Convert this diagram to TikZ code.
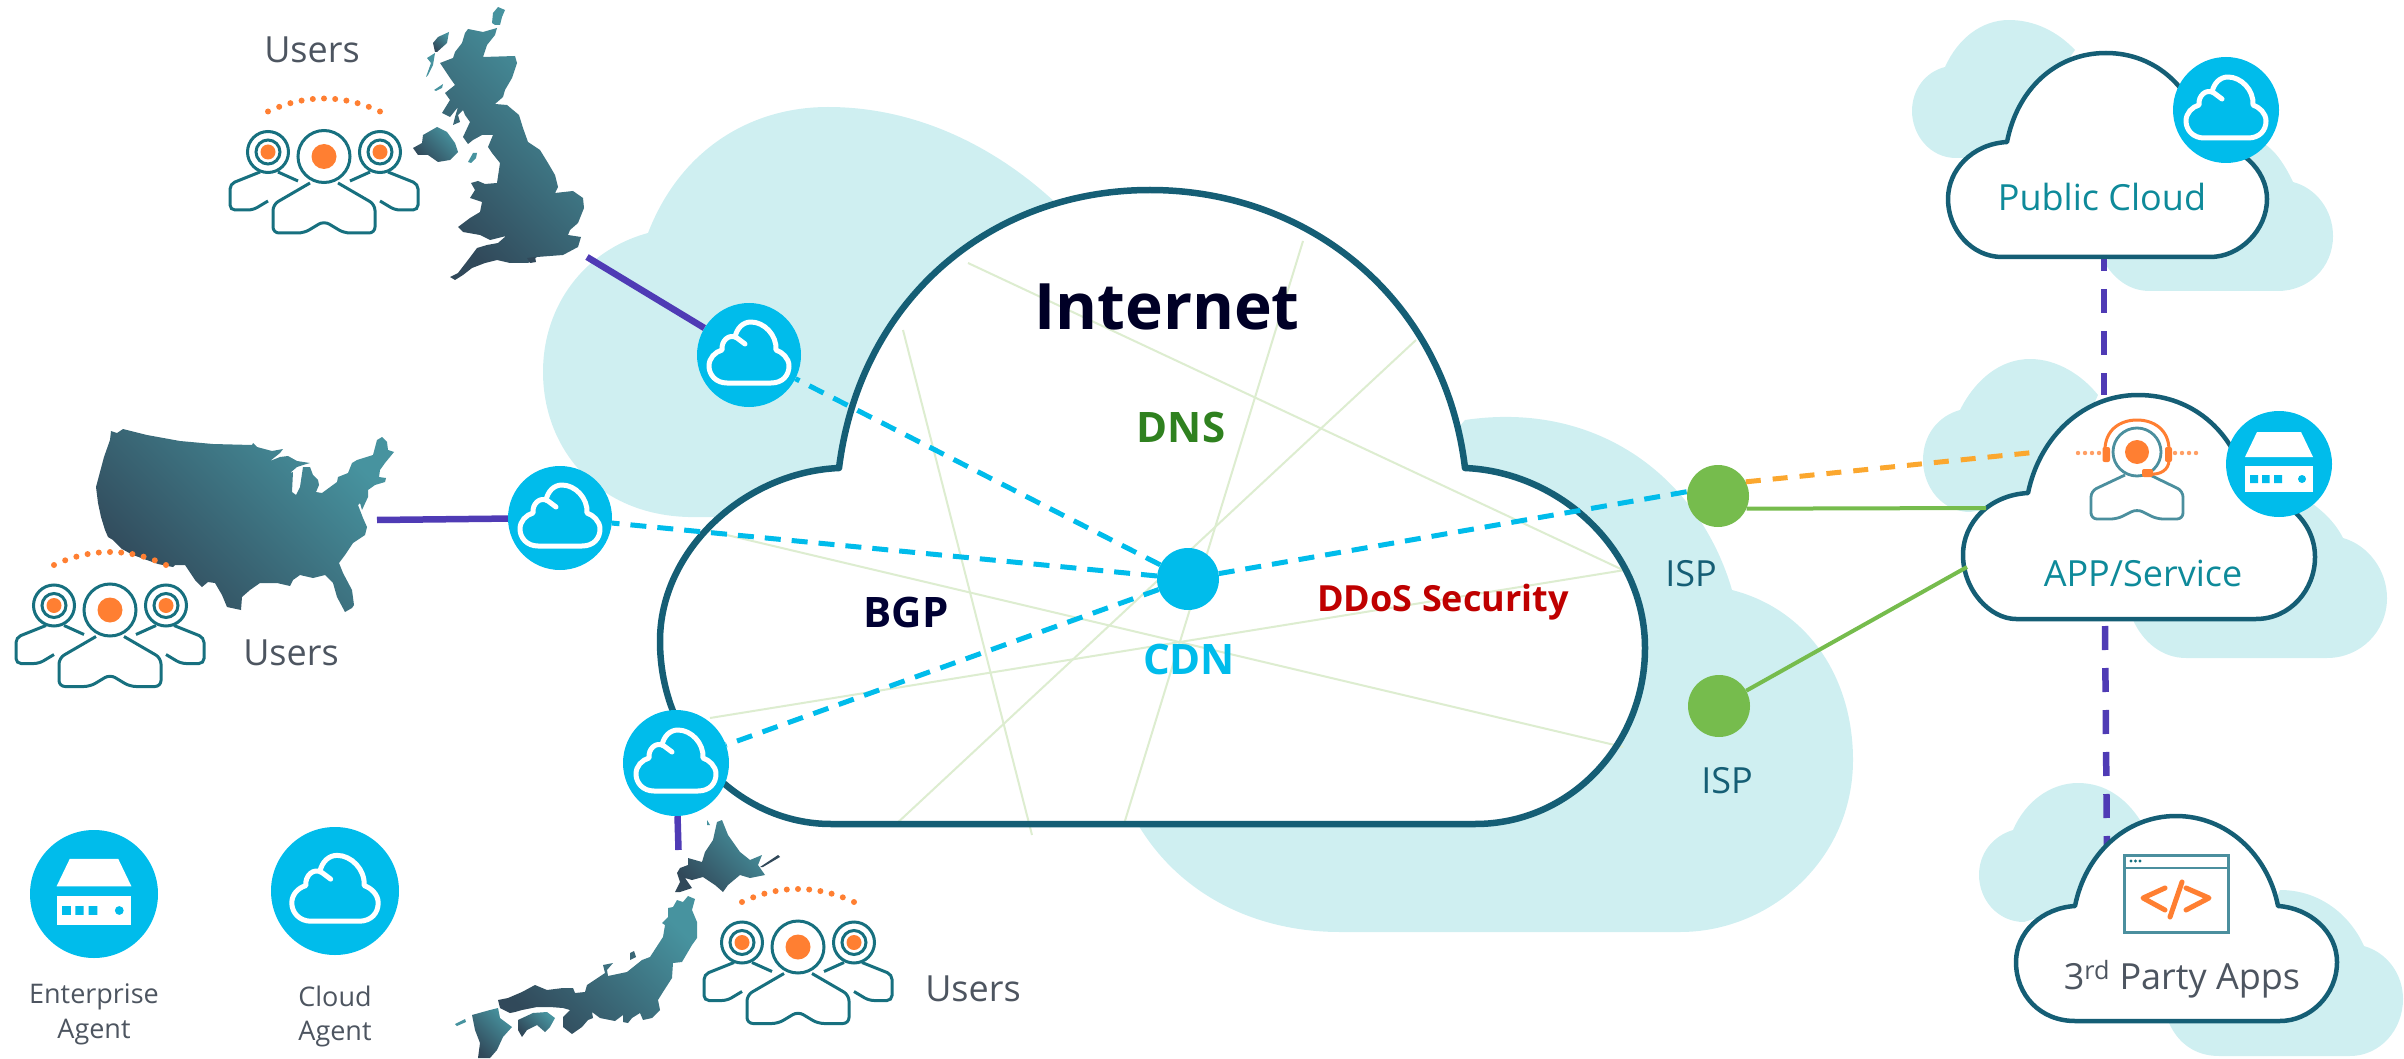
\documentclass[tikz,border=0pt]{standalone}
\usepackage{fontspec}
\setmainfont{Open Sans}
\definecolor{bgc}{HTML}{CFEFF1}
\definecolor{edgec}{HTML}{155E75}
\definecolor{cyanc}{HTML}{00BCEB}
\definecolor{purplec}{HTML}{4F3BB5}
\definecolor{greenc}{HTML}{76BC4D}
\definecolor{orangec}{HTML}{FF7F32}
\definecolor{amberc}{HTML}{FBA72E}
\definecolor{meshc}{HTML}{DDEDD0}
\definecolor{usrc}{HTML}{17707F}
\definecolor{lightt}{HTML}{4B8F9E}
\definecolor{mapa}{HTML}{47939F}
\definecolor{mapb}{HTML}{31495A}
\definecolor{greyt}{HTML}{4D5560}
\definecolor{tealt}{HTML}{0E8A9A}
\tikzset{
  bgcloud/.style={fill=bgc,draw=none},
  whitecloud/.style={fill=white,draw=edgec,line width=4.5pt,line join=round},
  agentdisk/.style={circle,fill=cyanc,inner sep=0pt,minimum size=#1},
  ispdisk/.style={circle,fill=greenc,inner sep=0pt,minimum size=62pt},
  mesh/.style={draw=meshc,line width=2pt},
  cyandash/.style={draw=cyanc,line width=5pt,dash pattern=on 16pt off 11pt},
  amberdash/.style={draw=amberc,line width=5pt,dash pattern=on 15pt off 12pt},
  purpledash/.style={draw=purplec,line width=6.5pt,dash pattern=on 24pt off 18pt},
  purplesolid/.style={draw=purplec,line width=6.5pt},
  greenline/.style={draw=greenc,line width=4pt},
  maparea/.style={left color=mapa,right color=mapb,shading angle=-45},
  lbl/.style={anchor=base,inner sep=0pt,font=\fontsize{36}{40}\selectfont},
  lblsmall/.style={anchor=base,inner sep=0pt,text=greyt,font=\fontsize{27}{30}\selectfont},
  lblbold/.style={anchor=base,inner sep=0pt,font=\bfseries\fontsize{42}{46}\selectfont},
  cloudglyph/.pic={
    \draw[white,line width=5pt,line cap=round,line join=round]
      (-4,-11) -- (-12,-17) .. controls (-20,-22) and (-28,-14) .. (-27,-5)
      .. controls (-34,-3) and (-40,3) .. (-40,11)
      .. controls (-40,20) and (-33,28) .. (-22,28) -- (22,28)
      .. controls (34,28) and (40,20) .. (40,11)
      .. controls (40,3) and (33,-3) .. (27,-5)
      .. controls (28,-20) and (15,-33) .. (2,-33)
      .. controls (-6,-33) and (-12,-27) .. (-14,-18);
  },
  serverglyph/.pic={
    \fill[white] (-22,-32) -- (22,-32) -- (34,-7) -- (-34,-7) -- cycle;
    \fill[white] (-34,2) rectangle (34,28);
    \fill[cyanc] (-29,11) rectangle (-21,19) (-17,11) rectangle (-9.5,19) (-5,11) rectangle (3,19);
    \fill[cyanc] (23,15) circle[radius=4pt];
  },
  usersglyph/.pic={
    \foreach \s in {-1,1}{
      \begin{scope}[xscale=\s,draw=usrc,line width=3pt,rounded corners=5pt]
        \draw[usrc] (-56,-4.5) circle[radius=20.5pt];
        \draw[usrc] (-56,-4.5) circle[radius=12pt];
        \fill[orangec] (-56,-4.5) circle[radius=7.5pt];
        \draw[usrc] (-64,15.5) -- (-94,27.5) -- (-94,53.5) -- (-71,53.5) -- (-56,44.5);
        \draw[usrc] (-46,15.5) -- (-26,24.5);
      \end{scope}
    }
    \draw[usrc,line width=3pt] (0,0) circle[radius=26pt];
    \fill[orangec] (0,0) circle[radius=12.5pt];
    \draw[usrc,line width=3pt,rounded corners=6pt]
      (-14,26.5) -- (-51,48) -- (-51,76.5) -- (-20,76.5) -- (0,64.5) -- (20,76.5) -- (51,76.5) -- (51,48) -- (14,26.5);
    \foreach \i in {-5,...,5}{
      \fill[orangec] ({\i*11.2},{-58+13*(\i/5)*(\i/5)}) circle[radius=3pt];
    }
  }
}
\begin{document}
\begin{tikzpicture}[x=1pt,y=-1pt]
\useasboundingbox (0,0) rectangle (2404,1059);

% background clouds
\fill[bgc] (648,233) .. controls (680,150) and (750,107) .. (828,107)
  .. controls (920,107) and (1000,150) .. (1058,205) -- (800,517) -- (700,517)
  .. controls (600,520) and (543,450) .. (543,372) .. controls (543,305) and (585,250) .. (648,233) -- cycle;
\fill[bgc] (1465,420) .. controls (1600,400) and (1700,480) .. (1732,590)
  .. controls (1810,610) and (1853,680) .. (1853,760)
  .. controls (1853,860) and (1770,932) .. (1680,932) -- (1340,932)
  .. controls (1250,932) and (1170,890) .. (1130,810) -- cycle;
\fill[bgc] (1945,67) .. controls (1958,38) and (1982,20) .. (2009,20)
  .. controls (2035,20) and (2058,32) .. (2075,50) -- (2000,158) -- (1956,158)
  .. controls (1930,158) and (1912,135) .. (1912,111) .. controls (1912,90) and (1925,72) .. (1945,67) -- cycle;
\fill[bgc] (2263,143) .. controls (2275,150) and (2285,165) .. (2293,182)
  .. controls (2316,188) and (2333,210) .. (2333,236)
  .. controls (2333,268) and (2308,291) .. (2278,291) -- (2150,291)
  .. controls (2130,291) and (2115,280) .. (2104,262) -- (2200,200) -- cycle;
\fill[bgc] (1960,410) .. controls (1975,380) and (2000,359) .. (2030,359)
  .. controls (2057,359) and (2082,375) .. (2098,395) -- (2050,500) -- (1970,512)
  .. controls (1943,512) and (1923,488) .. (1923,460) .. controls (1923,435) and (1938,416) .. (1960,410) -- cycle;
\fill[bgc] (2306,499) .. controls (2322,510) and (2335,522) .. (2343,538)
  .. controls (2368,545) and (2387,570) .. (2387,598)
  .. controls (2387,632) and (2360,658) .. (2327,658) -- (2186,658)
  .. controls (2162,658) and (2143,642) .. (2133,620) -- (2250,560) -- cycle;
\fill[bgc] (2013,830) .. controls (2025,802) and (2050,783) .. (2078,783)
  .. controls (2104,783) and (2125,797) .. (2140,820) -- (2075,906) -- (2024,922)
  .. controls (1998,922) and (1979,900) .. (1979,875) .. controls (1979,853) and (1993,836) .. (2013,830) -- cycle;
\fill[bgc] (2280,890) .. controls (2320,890) and (2350,915) .. (2364,946)
  .. controls (2388,953) and (2403,975) .. (2403,999)
  .. controls (2403,1030) and (2380,1056) .. (2350,1056) -- (2219,1056)
  .. controls (2195,1056) and (2178,1043) .. (2169,1023) -- (2250,950) -- cycle;

% free ends of the connectors
\coordinate (ukend) at (587,257);
\coordinate (usend) at (377,520);
\coordinate (jpend) at (678.5,850);
\coordinate (amberend) at (2038,452);
\coordinate (greenend1) at (1986,508);
\coordinate (greenend2) at (1967,567);
\coordinate (pubdash) at (2104,247);
\coordinate (appdash) at (2104,395);
\coordinate (appdash2) at (2105,626);
\coordinate (thirddash) at (2107,855);

% connectors that pass behind the right-hand clouds
\draw[purpledash] (pubdash) -- (appdash);
\draw[purpledash] (appdash2) -- (thirddash);

% right-hand clouds
\draw[whitecloud] (2007,142) .. controls (2017,90) and (2055,53) .. (2106,53)
  .. controls (2157,53) and (2195,90) .. (2205,142)
  .. controls (2240,144) and (2267,170) .. (2267,199)
  .. controls (2267,230) and (2240,257) .. (2210,257) -- (2002,257)
  .. controls (1972,257) and (1948,230) .. (1948,199)
  .. controls (1948,170) and (1972,144) .. (2007,142) -- cycle;
\draw[whitecloud] (2028,493) .. controls (2040,435) and (2085,395) .. (2138,395)
  .. controls (2195,395) and (2238,435) .. (2248,493)
  .. controls (2285,495) and (2315,522) .. (2315,557)
  .. controls (2315,590) and (2290,619) .. (2256,619) -- (2016,619)
  .. controls (1990,619) and (1963,590) .. (1963,555)
  .. controls (1963,522) and (1990,495) .. (2028,493) -- cycle;
\draw[whitecloud] (2075,906) .. controls (2085,855) and (2125,816) .. (2176,816)
  .. controls (2227,816) and (2268,855) .. (2278,906)
  .. controls (2310,908) and (2337,932) .. (2337,962)
  .. controls (2337,995) and (2310,1021) .. (2280,1021) -- (2075,1021)
  .. controls (2040,1021) and (2016,995) .. (2016,962)
  .. controls (2016,932) and (2042,908) .. (2075,906) -- cycle;

% Internet cloud
\def\mainpath{(839,468) .. controls (860,300) and (990,190) .. (1150,190)
  .. controls (1310,190) and (1445,300) .. (1465,468)
  .. controls (1560,472) and (1645,550) .. (1645,648)
  .. controls (1645,745) and (1570,824) .. (1475,824) -- (831,824)
  .. controls (740,824) and (660,745) .. (660,641)
  .. controls (660,550) and (745,472) .. (839,468) -- cycle}
\fill[white] \mainpath;
\draw[mesh] (968,263) -- (1623,570);
\draw[mesh] (1303,241) -- (1124,824);
\draw[mesh] (1416,340) -- (894,826);
\draw[mesh] (903,330) -- (1032,835);
\draw[mesh] (710,531) -- (1623,747);
\draw[mesh] (710,718) -- (1625,570);
\draw[edgec,line width=6.5pt,line join=round] \mainpath;

% UK
\shade[maparea] (468,29) -- (483,32) -- (497,28) -- (495,35) -- (487,45) -- (483,57) -- (515,56) -- (517,63) -- (512,78) -- (505,90) -- (503,97) -- (495,104) -- (507,105) -- (519,115) -- (523,128) -- (528,142) -- (540,150) -- (548,163) -- (555,175) -- (558,187) -- (555,193) -- (573,191) -- (583,198) -- (584,208) -- (578,223) -- (570,230) -- (568,235) -- (581,237) -- (578,247) -- (563,255) -- (537,257) -- (528,263) -- (510,263) -- (497,260) -- (485,263) -- (472,268) -- (463,275) -- (455,280) -- (450,277) -- (458,273) -- (468,260) -- (477,248) -- (487,245) -- (498,243) -- (506,236) -- (490,240) -- (480,235) -- (463,232) -- (458,227) -- (470,218) -- (480,212) -- (482,202) -- (470,198) -- (475,190) -- (471,183) -- (478,181) -- (485,184) -- (497,183) -- (500,163) -- (492,153) -- (488,147) -- (493,135) -- (482,135) -- (473,140) -- (468,144) -- (463,137) -- (470,122) -- (465,115) -- (463,110) -- (458,115) -- (460,122) -- (453,125) -- (455,117) -- (458,107) -- (450,117) -- (442,113) -- (450,100) -- (445,93) -- (455,85) -- (450,78) -- (440,63) -- (453,58) -- (455,52) -- (462,43) -- (465,33) -- cycle;
\shade[maparea] (413,148) -- (422,143) -- (423,135) -- (437,127) -- (447,132) -- (455,143) -- (458,152) -- (450,160) -- (438,162) -- (428,155) -- (418,155) -- cycle;
\fill[mapa] (468,162) -- (473,153) -- (477,153) -- (476,158) -- (471,163) -- cycle;
\shade[maparea] (433,43) -- (438,37) -- (449,32) -- (447,43) -- (437,52) -- (435,52) -- cycle;
\fill[mapa] (427,58) -- (435,53) -- (433,65) -- (428,75) -- (426,77) -- (431,63) -- cycle;
\fill[mapa] (434,90) -- (443,84) -- (442,88) -- (436,91) -- cycle;
\fill[mapa] (492,23) -- (493,13) -- (498,7) -- (505,10) -- (502,17) -- (500,25) -- (495,25) -- cycle;
\fill[mapb] (527,258) -- (535,257) -- (536,262) -- (530,263) -- cycle;

% USA
\shade[maparea] (111,431) -- (117,433) -- (123,429) -- (147,435) -- (180,441) -- (213,444) -- (252,445) -- (253,443) -- (257,447) -- (272,451) -- (283,449) -- (280,453) -- (270,461) -- (280,457) -- (288,456) -- (297,461) -- (310,463) -- (303,465) -- (297,467) -- (290,473) -- (293,472) -- (292,492) -- (296,495) -- (300,487) -- (303,467) -- (310,467) -- (313,475) -- (318,480) -- (319,485) -- (316,492) -- (322,493) -- (337,482) -- (338,477) -- (348,473) -- (352,463) -- (357,460) -- (373,455) -- (377,440) -- (382,437) -- (387,442) -- (388,450) -- (394,452) -- (385,463) -- (380,470) -- (379,477) -- (386,478) -- (385,482) -- (375,485) -- (368,490) -- (368,497) -- (362,510) -- (360,503) -- (358,505) -- (363,518) -- (367,527) -- (365,535) -- (353,543) -- (345,555) -- (339,563) -- (343,573) -- (352,590) -- (354,605) -- (352,608) -- (345,612) -- (337,597) -- (333,583) -- (325,575) -- (313,578) -- (300,575) -- (293,580) -- (290,586) -- (277,583) -- (260,583) -- (250,590) -- (242,597) -- (241,610) -- (227,607) -- (222,595) -- (215,583) -- (208,582) -- (202,587) -- (195,580) -- (185,565) -- (175,565) -- (173,567) -- (158,564) -- (133,555) -- (122,549) -- (113,540) -- (108,537) -- (105,530) -- (101,517) -- (98,503) -- (96,487) -- (100,472) -- (104,457) -- (110,440) -- cycle;

% Japan
\shade[maparea] (717,822) -- (722,820) -- (728,835) -- (740,852) -- (750,860) -- (762,855) -- (758,865) -- (765,875) -- (750,878) -- (740,875) -- (728,885) -- (723,892) -- (715,885) -- (703,877) -- (692,880) -- (685,878) -- (692,888) -- (680,892) -- (675,892) -- (680,882) -- (677,873) -- (680,868) -- (688,865) -- (688,858) -- (702,862) -- (705,852) -- (713,840) -- cycle;
\fill[mapb] (760,867) -- (778,855) -- (780,857) -- (763,867) -- cycle;
\fill[mapa] (707,820) -- (710,825) -- (707,825) -- cycle;
\shade[maparea] (677,900) -- (683,902) -- (688,896) -- (695,899) -- (692,910) -- (697,922) -- (697,938) -- (692,945) -- (682,962) -- (673,963) -- (672,978) -- (663,992) -- (658,1000) -- (660,1010) -- (652,1018) -- (643,1020) -- (640,1013) -- (632,1018) -- (628,1023) -- (623,1022) -- (623,1015) -- (615,1021) -- (600,1018) -- (592,1012) -- (593,1018) -- (588,1020) -- (582,1027) -- (572,1034) -- (563,1027) -- (563,1017) -- (570,1010) -- (563,1008) -- (550,1007) -- (537,1007) -- (522,1010) -- (515,1012) -- (510,1013) -- (500,1008) -- (498,1000) -- (508,998) -- (522,992) -- (535,985) -- (547,990) -- (563,988) -- (573,988) -- (575,993) -- (585,992) -- (587,985) -- (602,975) -- (605,973) -- (603,965) -- (613,963) -- (607,970) -- (608,976) -- (627,972) -- (642,960) -- (650,957) -- (663,937) -- (665,925) -- (662,923) -- (668,917) -- (668,908) -- (673,907) -- cycle;
\shade[maparea] (472,1015) -- (490,1010) -- (498,1008) -- (500,1018) -- (512,1027) -- (503,1037) -- (497,1050) -- (490,1058) -- (478,1058) -- (480,1043) -- (475,1030) -- cycle;
\shade[maparea] (518,1020) -- (533,1013) -- (547,1012) -- (555,1018) -- (550,1027) -- (545,1032) -- (537,1025) -- (527,1030) -- (522,1037) -- (518,1030) -- cycle;
\fill[mapa!40!mapb] (630,953) -- (634,951) -- (636,957) -- (630,960) -- cycle;
\fill[mapa] (455,1024) -- (465,1019) -- (466,1022) -- (457,1026) -- cycle;

% agent and hub discs
\node[agentdisk=104pt] (cTop) at (749,355) {};
\node[agentdisk=104pt] (cUS) at (560,518) {};
\node[agentdisk=106pt] (cJP) at (676,763) {};
\node[agentdisk=128pt] (legE) at (94,894) {};
\node[agentdisk=128pt] (legC) at (335,891) {};
\node[agentdisk=106pt] (pubI) at (2226,110) {};
\node[agentdisk=106pt] (appI) at (2279,464) {};
\node[agentdisk=62pt] (hub) at (1188,579) {};
\node[ispdisk] (isp1) at (1718,496) {};
\node[ispdisk] (isp2) at (1719,706) {};

% connectors
\draw[purplesolid] (ukend) -- (cTop);
\draw[purplesolid] (usend) -- (cUS);
\draw[purplesolid] (jpend) -- (cJP);
\draw[cyandash] (hub) -- (cTop);
\draw[cyandash] (hub) -- (cUS);
\draw[cyandash] (hub) -- (cJP);
\draw[cyandash] (hub) -- (isp1.172);
\draw[amberdash] (isp1.27) -- (amberend);
\draw[greenline] (isp1.-24) -- (greenend1);
\draw[greenline] (isp2) -- (greenend2);

% glyphs in the discs
\pic at (749,355) {cloudglyph};
\pic at (560,518) {cloudglyph};
\pic at (676,763) {cloudglyph};
\pic at (2226,110) {cloudglyph};
\pic[scale=1.08] at (335,891) {cloudglyph};
\pic at (2279,464) {serverglyph};
\pic[scale=1.1] at (94,894) {serverglyph};

% users
\pic at (324,156.5) {usersglyph};
\pic at (110,610) {usersglyph};
\pic at (798,947) {usersglyph};

% headset person
\draw[lightt,line width=2.8pt] (2137,452) circle[radius=24pt];
\fill[orangec] (2137,452) circle[radius=12pt];
\draw[lightt,line width=2.8pt,rounded corners=6pt] (2125,475) -- (2091,491) -- (2091,519) -- (2117,519) -- (2137,509) -- (2157,519) -- (2183,519) -- (2183,491) -- (2150,475);
\draw[orangec,line width=3pt] (2105,450) .. controls (2105,430) and (2120,420) .. (2137,420) .. controls (2154,420) and (2169,430) .. (2169,450);
\draw[orangec,line width=3pt] (2169,460) .. controls (2169,470) and (2160,475) .. (2150,474);
\fill[orangec,rounded corners=2pt] (2102.5,447) rectangle (2110,462);
\fill[orangec,rounded corners=2pt] (2165,447) rectangle (2172,462);
\fill[orangec,rounded corners=2pt] (2142,469) rectangle (2153,477);
\foreach \px in {2078,2085,2092,2099,2175,2182,2189,2196}{\fill[orangec!75] (\px,453) circle[radius=2.2pt];}

% app window
\draw[lightt,line width=3pt] (2124,855) rectangle (2228,932);
\draw[lightt,line width=1.5pt] (2124,868) -- (2228,868);
\foreach \px in {2131,2135.5,2140}{\fill[usrc] (\px,861) circle[radius=1.7pt];}
\draw[orangec,line width=5pt,line cap=round,line join=round] (2165,888) -- (2143,898) -- (2165,910);
\draw[orangec,line width=5pt,line cap=round] (2182,882) -- (2170,917);
\draw[orangec,line width=5pt,line cap=round,line join=round] (2186,888) -- (2209,898) -- (2186,910);

% labels
\node[lbl,text=greyt] (tU1) at (312,62.5) {Users};
\node[lbl,text=greyt] (tU2) at (291,665) {Users};
\node[lbl,text=greyt] (tU3) at (973,1001) {Users};
\node[lblsmall] (tE1) at (94,1003) {Enterprise};
\node[lblsmall] (tE2) at (94,1038) {Agent};
\node[lblsmall] (tC1) at (335,1006) {Cloud};
\node[lblsmall] (tC2) at (335,1040) {Agent};
\node[anchor=base,inner sep=0pt,text=black!85!blue,font=\bfseries\fontsize{64}{70}\selectfont] (tI) at (1167,330) {Internet};
\node[lblbold,text=green!35!black!60!greenc] (tD) at (1181,442) {DNS};
\node[lblbold,text=blue!20!black] (tB) at (906,627) {BGP};
\node[lblbold,text=cyanc] (tCDN) at (1189,674) {CDN};
\node[anchor=base,inner sep=0pt,text=red!75!black,font=\bfseries\fontsize{36}{40}\selectfont] (tS) at (1443,611) {DDoS Security};
\node[lbl,text=edgec] (tI1) at (1691,586) {ISP};
\node[lbl,text=edgec] (tI2) at (1727,793) {ISP};
\node[lbl,text=tealt] (tP) at (2102,211) {Public Cloud};
\node[lbl,text=tealt] (tA) at (2143,586) {APP/Service};
\node[lbl,text=greyt] (tT) at (2182,989) {3\textsuperscript{rd} Party Apps};
\end{tikzpicture}
\end{document}
